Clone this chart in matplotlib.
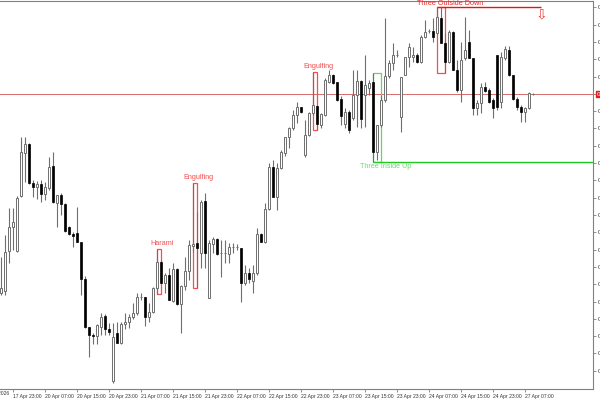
import numpy as np
import matplotlib.pyplot as plt
from matplotlib.patches import Rectangle

# hourly bars, prices
opens = [6707, 6709, 6749, 6773, 6749, 6804, 6847, 6856, 6817, 6813, 6816, 6806, 6812, 6834, 6797, 6805,
         6796, 6773, 6766, 6767, 6758, 6721, 6673, 6665, 6664, 6673, 6684, 6671, 6619, 6667, 6657, 6676,
         6678, 6683, 6687, 6703, 6703, 6683, 6688, 6712, 6738, 6717, 6725, 6699, 6731, 6696, 6714, 6729,
         6754, 6757, 6747, 6799, 6702, 6756, 6761, 6747, 6747, 6746, 6753, 6753, 6752, 6717, 6727, 6719,
         6727, 6766, 6758, 6791, 6833, 6803, 6832, 6847, 6863, 6872, 6885, 6893, 6845, 6865, 6887, 6894,
         6875, 6885, 6918, 6925, 6918, 6901, 6876, 6888, 6882, 6905, 6919, 6905, 6912, 6918, 6848, 6875,
         6900, 6924, 6937, 6945, 6883, 6925, 6943, 6943, 6945, 6938, 6963, 6969, 6969, 6967, 6982, 6957,
         6938, 6968, 6930, 6910, 6942, 6958, 6942, 6892, 6897, 6913, 6910, 6900, 6945, 6898, 6942, 6950,
         6925, 6901, 6893, 6888, 6892, 6906]
highs = [6743, 6765, 6792, 6792, 6804, 6863, 6863, 6857, 6820, 6819, 6820, 6818, 6843, 6848, 6805, 6807,
         6797, 6774, 6768, 6793, 6758, 6724, 6673, 6667, 6676, 6687, 6686, 6677, 6677, 6678, 6678, 6687,
         6686, 6697, 6707, 6707, 6703, 6697, 6713, 6751, 6740, 6727, 6732, 6737, 6732, 6715, 6743, 6760,
         6817, 6788, 6800, 6807, 6760, 6763, 6762, 6760, 6760, 6757, 6757, 6756, 6752, 6735, 6732, 6735,
         6772, 6767, 6797, 6837, 6840, 6837, 6850, 6863, 6873, 6890, 6898, 6893, 6880, 6888, 6928, 6895,
         6887, 6922, 6930, 6926, 6918, 6904, 6892, 6890, 6930, 6930, 6920, 6945, 6920, 6927, 6875, 6905,
         6982, 6940, 6957, 6950, 6923, 6943, 6957, 6953, 6947, 6965, 6980, 6971, 6982, 6993, 6993, 6967,
         6970, 6969, 6940, 6958, 6983, 6970, 6942, 6900, 6917, 6918, 6912, 6902, 6945, 6948, 6954, 6954,
         6925, 6903, 6895, 6893, 6908, 6907]
lows = [6705, 6705, 6737, 6750, 6748, 6803, 6818, 6816, 6803, 6801, 6798, 6800, 6810, 6797, 6773, 6785,
        6768, 6765, 6753, 6758, 6705, 6672, 6643, 6656, 6656, 6665, 6665, 6665, 6617, 6657, 6656, 6671,
        6672, 6681, 6685, 6700, 6674, 6678, 6687, 6706, 6717, 6707, 6700, 6698, 6695, 6667, 6710, 6720,
        6748, 6712, 6732, 6732, 6702, 6747, 6745, 6723, 6737, 6737, 6747, 6750, 6698, 6715, 6717, 6707,
        6725, 6758, 6757, 6790, 6803, 6790, 6831, 6844, 6852, 6870, 6877, 6887, 6843, 6864, 6885, 6870,
        6872, 6884, 6917, 6916, 6899, 6875, 6872, 6867, 6880, 6873, 6872, 6873, 6905, 6838, 6840, 6873,
        6898, 6922, 6930, 6943, 6868, 6925, 6933, 6938, 6937, 6937, 6962, 6967, 6958, 6966, 6957, 6927,
        6937, 6930, 6908, 6898, 6940, 6942, 6885, 6885, 6887, 6908, 6897, 6882, 6890, 6892, 6940, 6924,
        6900, 6890, 6878, 6878, 6891, 6905]
closes = [6712, 6748, 6773, 6778, 6802, 6848, 6856, 6817, 6813, 6816, 6806, 6813, 6833, 6798, 6805, 6796,
          6769, 6766, 6764, 6758, 6721, 6673, 6665, 6664, 6675, 6683, 6671, 6668, 6663, 6657, 6676, 6678,
          6683, 6687, 6703, 6703, 6683, 6688, 6712, 6738, 6717, 6725, 6700, 6731, 6696, 6714, 6729, 6755,
          6756, 6752, 6798, 6747, 6757, 6761, 6746, 6747, 6747, 6753, 6753, 6753, 6717, 6727, 6721, 6727,
          6766, 6758, 6791, 6833, 6803, 6832, 6848, 6863, 6872, 6885, 6893, 6888, 6865, 6887, 6895, 6876,
          6886, 6920, 6925, 6917, 6900, 6884, 6888, 6870, 6905, 6919, 6881, 6915, 6917, 6848, 6875, 6900,
          6924, 6937, 6945, 6945, 6923, 6943, 6953, 6945, 6938, 6963, 6968, 6969, 6963, 6983, 6957, 6938,
          6968, 6930, 6910, 6940, 6950, 6942, 6892, 6897, 6913, 6909, 6898, 6892, 6893, 6943, 6951, 6925,
          6901, 6893, 6888, 6892, 6907, 6906]

opens = np.array(opens) / 10000
highs = np.array(highs) / 10000
lows = np.array(lows) / 10000
closes = np.array(closes) / 10000

time_labels = ["17 Apr 23:00", "20 Apr 07:00", "20 Apr 15:00", "20 Apr 23:00", "21 Apr 07:00",
               "21 Apr 15:00", "21 Apr 23:00", "22 Apr 07:00", "22 Apr 15:00", "22 Apr 23:00",
               "23 Apr 07:00", "23 Apr 15:00", "23 Apr 23:00", "24 Apr 07:00", "24 Apr 15:00",
               "24 Apr 23:00", "27 Apr 07:00"]
first_date = "17 Apr 2026"

# (name, first bar, last bar, colour)
patterns = [("Harami", 39, 40, "#f25050"),
            ("Engulfing", 48, 49, "#f25050"),
            ("Engulfing", 78, 79, "#f25050"),
            ("Three Inside Up", 93, 95, "#66d466"),
            ("Three Outside Down", 109, 111, "#f25050")]

plt.rcParams["font.family"] = ["Liberation Sans", "DejaVu Sans"]

n = len(opens)
x = np.arange(n)

fig = plt.figure(figsize=(6, 4), dpi=100)
ax = fig.add_axes([0, 11 / 400, 593 / 600, 387.7 / 400])
ax.set_xlim(-0.25, 148)
ax.set_ylim(0.6611, 0.69987)

# wicks and bodies
wick_col = "#6e6e6e"
ax.vlines(x, lows, highs, color=wick_col, linewidth=0.8, zorder=3)
up = closes >= opens
body_w = 0.72
ax.bar(x[up], np.maximum(closes[up] - opens[up], 0.00004), bottom=opens[up], width=body_w,
       color="white", edgecolor=wick_col, linewidth=0.7, zorder=4)
ax.bar(x[~up], opens[~up] - closes[~up], bottom=closes[~up], width=body_w,
       color="black", edgecolor="black", linewidth=0.5, zorder=4)

# pattern boxes and labels
for name, a, b, col in patterns:
    hi = highs[a:b + 1].max()
    lo = lows[a:b + 1].min()
    ax.add_patch(Rectangle((a, lo), b - a, hi - lo, fill=False, edgecolor=col, linewidth=0.9, zorder=2))
    if name == "Three Inside Up":
        ax.hlines(lo, a, 148, color="#22c822", linewidth=1.0, zorder=2)
        ax.annotate(name, (b + 1.2, lo), xytext=(0, -1), textcoords="offset points",
                    ha="center", va="top", fontsize=5.2, color="#70d870")
    elif name == "Three Outside Down":
        ax.hlines(hi, a, 135, color="#e01818", linewidth=1.0, zorder=2)
        ax.annotate(name, (b + 1.2, hi), xytext=(0, 0), textcoords="offset points",
                    ha="center", va="bottom", fontsize=5.2, color="#e82828", annotation_clip=False)
        ax.annotate("\u21e9", (135, hi), xytext=(0, 0), textcoords="offset points",
                    ha="center", va="top", fontsize=10, color="#f04040",
                    family="DejaVu Sans")
    else:
        ax.annotate(name, (b + 0.3, hi), xytext=(0, 1.5), textcoords="offset points",
                    ha="center", va="bottom", fontsize=5.2, color=col)

# current price line with marker
last = closes[-1]
ax.axhline(last, color="#d86c6c", linewidth=0.7, zorder=1)
ax.annotate(f"{last:.4f}", xy=(1, last), xycoords=("axes fraction", "data"), xytext=(2.5, 0),
            textcoords="offset points", ha="left", va="center", fontsize=4.5, color="white",
            annotation_clip=False,
            bbox=dict(boxstyle="square,pad=0.15", facecolor="#e02020", edgecolor="#e02020"))

# axes styling
ax.spines["left"].set_visible(False)
for s in ["top", "right", "bottom"]:
    ax.spines[s].set_color("#808080")
    ax.spines[s].set_linewidth(0.8)

ax.yaxis.tick_right()
yticks = 0.69926 - 0.00173 * np.arange(22)
ax.set_yticks(yticks)
ax.set_yticklabels([f"{v:.4f}" for v in yticks])
ax.tick_params(axis="y", direction="out", length=2.5, width=0.6, color="#808080",
               labelsize=4.5, labelcolor="#333333", pad=1)

xt = 3 + 8 * np.arange(len(time_labels))
ax.set_xticks(xt)
ax.set_xticklabels(time_labels, ha="left")
ax.tick_params(axis="x", direction="out", length=2.5, width=0.6, color="#808080",
               labelsize=3.6, labelcolor="#333333", pad=0.8)
fig.text(9 / 600, 8.5 / 400, first_date, ha="right", va="top", fontsize=3.6, color="#333333")

fig.savefig("out.png", dpi=100, facecolor="white")
